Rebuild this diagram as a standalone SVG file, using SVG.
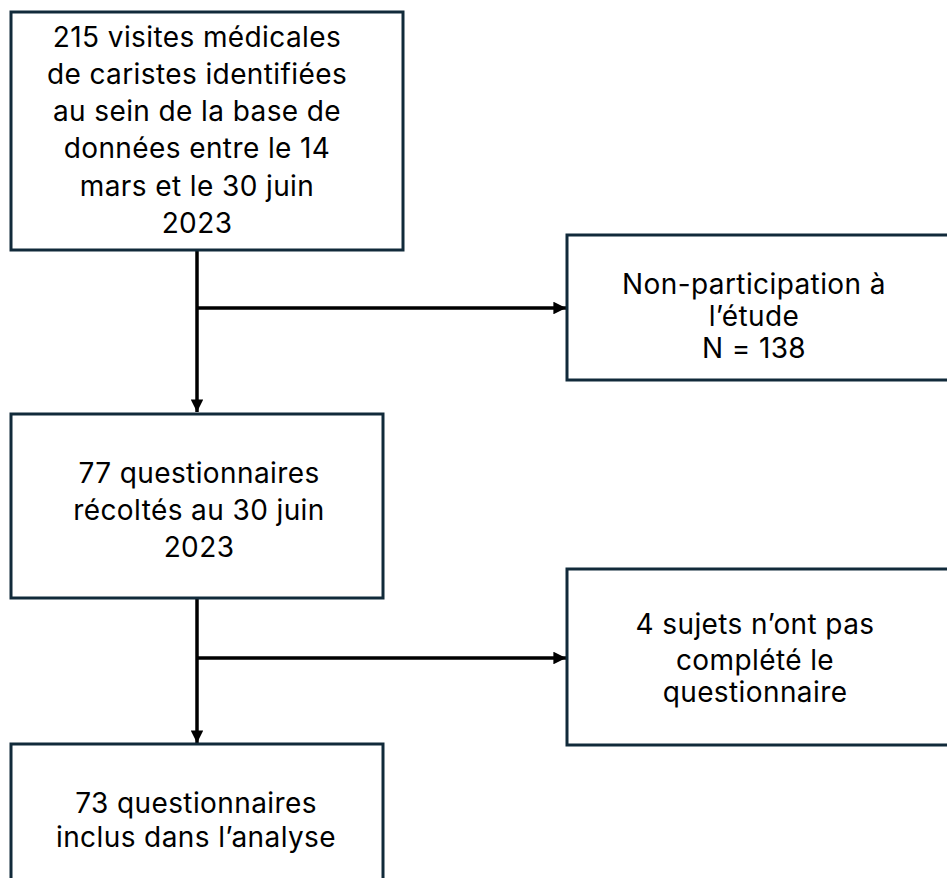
<svg xmlns="http://www.w3.org/2000/svg" width="947" height="878" viewBox="0 0 947 878">
<defs>
<style>
.box{fill:#ffffff;stroke:#112a3a;stroke-width:3}
.t{font-family:Inter,"Liberation Sans",sans-serif;font-size:28px;letter-spacing:0.4px;fill:#000;text-anchor:middle}
.c{stroke:#000;stroke-width:3.5;fill:none}
</style>
<marker id="ah" viewBox="0 0 10 10" refX="10" refY="5" markerWidth="3.6" markerHeight="3.6" orient="auto" markerUnits="strokeWidth">
<path d="M0,0 L10,5 L0,10 z" fill="#000"/>
</marker>
</defs>
<rect width="947" height="878" fill="#ffffff"/>
<g id="connectors">
<line class="c" x1="197" y1="251" x2="197" y2="412" marker-end="url(#ah)"/>
<line class="c" x1="197" y1="308" x2="566" y2="308" marker-end="url(#ah)"/>
<line class="c" x1="197" y1="598" x2="197" y2="743" marker-end="url(#ah)"/>
<line class="c" x1="197" y1="658" x2="566" y2="658" marker-end="url(#ah)"/>
</g>
<g id="n1">
<rect class="box" x="11" y="12" width="392" height="238"/>
<text class="t" x="197" y="47">215 visites médicales</text>
<text class="t" x="197" y="84">de caristes identifiées</text>
<text class="t" x="197" y="121">au sein de la base de</text>
<text class="t" x="197" y="158">données entre le 14</text>
<text class="t" x="197" y="196">mars et le 30 juin</text>
<text class="t" x="197" y="233">2023</text>
</g>
<g id="n2">
<rect class="box" x="567" y="235" width="390" height="145"/>
<text class="t" x="754" y="294">Non-participation à</text>
<text class="t" x="754" y="326">l’étude</text>
<text class="t" x="754" y="358">N = 138</text>
</g>
<g id="n3">
<rect class="box" x="11" y="414" width="372" height="184"/>
<text class="t" x="199" y="483">77 questionnaires</text>
<text class="t" x="199" y="520">récoltés au 30 juin</text>
<text class="t" x="199" y="557">2023</text>
</g>
<g id="n4">
<rect class="box" x="567" y="569" width="390" height="176"/>
<text class="t" x="755" y="634">4 sujets n’ont pas</text>
<text class="t" x="755" y="670">complété le</text>
<text class="t" x="755" y="702">questionnaire</text>
</g>
<g id="n5">
<rect class="box" x="11" y="744" width="372" height="150"/>
<text class="t" x="196" y="813">73 questionnaires</text>
<text class="t" x="196" y="847">inclus dans l’analyse</text>
</g>
</svg>
